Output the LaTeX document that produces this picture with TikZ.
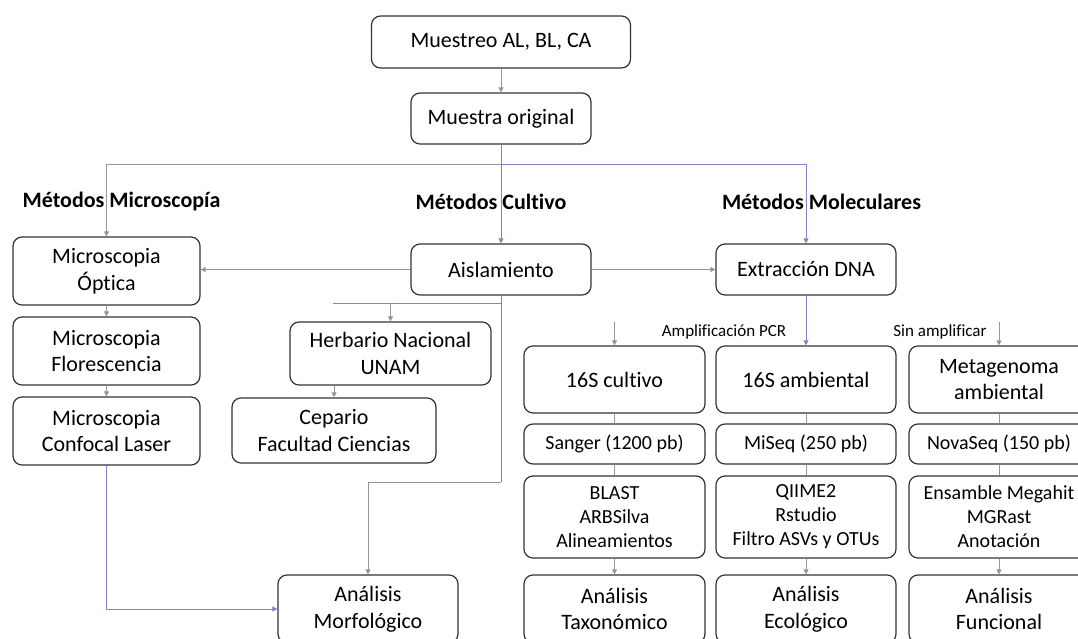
\documentclass[tikz,border=0pt]{standalone}
\usepackage{fontspec}
\setmainfont{Carlito}[Ligatures=NoCommon]
\usepackage{xcolor}
\usepackage{tikz}
\usetikzlibrary{positioning,calc,arrows.meta}
\definecolor{lineagris}{RGB}{150,150,150}
\definecolor{lineaazul}{RGB}{130,130,205}

\tikzset{
    caja/.style={draw=black!80, line width=1.2pt, rounded corners=9pt, align=center, inner sep=0pt, font=\fontsize{22}{26.5}\selectfont},
    cajah/.style={caja, font=\fontsize{20}{24}\selectfont},
    titulo/.style={font=\fontsize{22}{26}\selectfont\bfseries},
    etiqueta/.style={font=\fontsize{17}{20}\selectfont},
    linea/.style={draw=lineagris, line width=0.9pt},
    lineaaz/.style={draw=lineaazul, line width=0.9pt},
    flecha/.style={linea, -{Triangle[length=5pt,width=5pt]}},
    flechaaz/.style={lineaaz, -{Triangle[length=5pt,width=5pt]}},
}

\begin{document}
\begin{tikzpicture}[x=1pt, y=-1pt]
    \useasboundingbox (0,0) rectangle (1078,639);
    \clip (0,0) rectangle (1078,639);

    \node[caja, minimum width=259, minimum height=52] (muestreo) at (501,42) {Muestreo AL, BL, CA};
    \node[caja, minimum width=180, minimum height=51] (original) at (501,118.5) {Muestra original};

    \node[titulo] (tmicro) at (121.5,202) {Métodos Microscopía};
    \node[titulo] (tcultivo) at (491,202) {Métodos Cultivo};
    \node[titulo] (tmolec) at (821.5,202) {Métodos Moleculares};

    \node[caja, minimum width=187, minimum height=68] (optica) at (106.5,271) {Microscopia\\Óptica};
    \node[caja, minimum width=187, minimum height=68] (florescencia) at (106.5,351) {Microscopia\\Florescencia};
    \node[caja, minimum width=187, minimum height=68] (confocal) at (106.5,431) {Microscopia\\Confocal Laser};

    \node[caja, minimum width=180, minimum height=51] (aislamiento) at (501,269.5) {Aislamiento};
    \node[caja, minimum width=201, minimum height=63] (herbario) at (390.5,353.5) {Herbario Nacional\\UNAM};
    \node[caja, minimum width=204, minimum height=65] (cepario) at (334,430.5) {Cepario\\Facultad Ciencias};
    \node[caja, minimum width=180, minimum height=68] (morfologico) at (368,609) {Análisis\\Morfológico};

    \node[caja, minimum width=180, minimum height=51] (extraccion) at (806,269.5) {Extracción DNA};
    \node[etiqueta] (pcr) at (724,332) {Amplificación PCR};
    \node[etiqueta] (sinamp) at (940,332) {Sin amplificar};

    \node[caja, minimum width=181, minimum height=67] (cultivo) at (614.5,379.5) {16S cultivo};
    \node[caja, minimum width=180, minimum height=67] (ambiental) at (806,379.5) {16S ambiental};
    \node[caja, minimum width=180, minimum height=67] (metagenoma) at (999,379.5) {Metagenoma\\ambiental};

    \node[cajah, minimum width=181, minimum height=40] (sanger) at (614.5,444) {Sanger (1200 pb)};
    \node[cajah, minimum width=180, minimum height=40] (miseq) at (806,444) {MiSeq (250 pb)};
    \node[cajah, minimum width=180, minimum height=40] (novaseq) at (999,444) {NovaSeq (150 pb)};

    \node[cajah, minimum width=181, minimum height=82] (blast) at (614.5,517) {BLAST\\ARBSilva\\Alineamientos};
    \node[cajah, minimum width=180, minimum height=82] (qiime) at (806,517) {QIIME2\\Rstudio\\Filtro ASVs y OTUs};
    \node[cajah, minimum width=180, minimum height=82] (ensamble) at (999,517) {Ensamble Megahit\\MGRast\\Anotación};

    \node[caja, minimum width=181, minimum height=68] (taxonomico) at (614.5,609) {Análisis\\Taxonómico};
    \node[caja, minimum width=180, minimum height=68] (ecologico) at (806,609) {Análisis\\Ecológico};
    \node[caja, minimum width=180, minimum height=68] (funcional) at (999,609) {Análisis\\Funcional};

    \coordinate (reparto) at (501,164);
    \coordinate (bajoais) at (501,303);
    \coordinate (herbizq) at (333,303);
    \coordinate (giro) at (501,482);
    \coordinate (bifurca) at (806,322);

    \draw[flecha] (muestreo) -- (original);
    \draw[flechaaz] (original) -- (aislamiento);
    \draw[flecha] (reparto) -| (optica.north);
    \draw[flechaaz] (reparto) -| (extraccion.north);

    \draw[flecha] (aislamiento) -- (optica.east |- aislamiento);
    \draw[flecha] (aislamiento) -- (extraccion);
    \draw[flecha] (optica) -- (florescencia);
    \draw[flecha] (florescencia) -- (confocal);
    \draw[flechaaz] (confocal.south) |- (morfologico.west);

    \draw[lineaaz] (aislamiento.south) -- (giro);
    \draw[flecha] (giro) -| (morfologico.north);
    \draw[lineaaz] (herbizq) -- (bajoais);
    \draw[flecha] (herbario.north |- bajoais) -- (herbario);
    \draw[flecha] (cepario.north |- herbario.south) -- (cepario);

    \draw[flechaaz] (extraccion) -- (ambiental);
    \draw[flecha] (cultivo.north |- bifurca) -- (cultivo);
    \draw[flecha] (metagenoma.north |- bifurca) -- (metagenoma);

    \foreach \a/\b/\c/\d in {cultivo/sanger/blast/taxonomico, ambiental/miseq/qiime/ecologico, metagenoma/novaseq/ensamble/funcional} {
        \draw[linea] (\a) -- (\b);
        \draw[linea] (\b) -- (\c);
        \draw[flecha] (\c) -- (\d);
    }
\end{tikzpicture}
\end{document}
